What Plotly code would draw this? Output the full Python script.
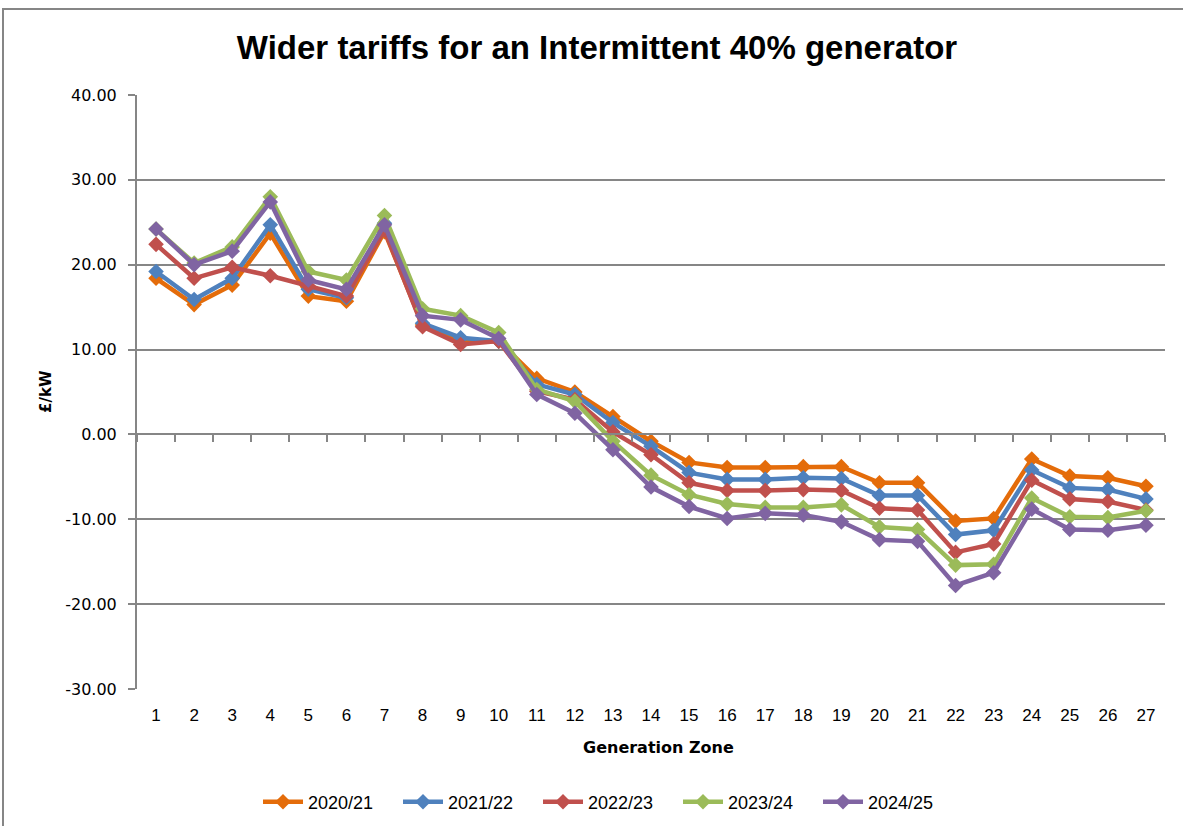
import plotly.graph_objects as go

zones = list(range(1, 28))
series_names = ["2020/21", "2021/22", "2022/23", "2023/24", "2024/25"]
y2020 = [18.4, 15.3, 17.6, 23.7, 16.3, 15.7, 23.9, 12.9, 10.9, 11.0, 6.6, 5.0, 2.1, -0.8, -3.3, -3.9, -3.9, -3.8, -3.8, -5.7, -5.7, -10.2, -9.9, -2.9, -4.9, -5.1, -6.1]
y2021 = [19.2, 15.9, 18.4, 24.7, 17.1, 16.1, 24.9, 13.1, 11.4, 11.0, 5.9, 4.7, 1.4, -1.4, -4.5, -5.3, -5.3, -5.1, -5.2, -7.2, -7.2, -11.8, -11.3, -4.2, -6.3, -6.5, -7.6]
y2022 = [22.4, 18.4, 19.7, 18.7, 17.5, 16.3, 24.1, 12.7, 10.6, 11.0, 5.1, 4.1, 0.3, -2.4, -5.7, -6.6, -6.6, -6.5, -6.6, -8.7, -8.9, -13.9, -12.9, -5.4, -7.6, -7.9, -8.9]
y2023 = [24.2, 20.2, 22.1, 28.0, 19.2, 18.2, 25.8, 14.8, 14.0, 12.0, 5.3, 3.9, -0.8, -4.8, -7.1, -8.2, -8.6, -8.6, -8.3, -10.9, -11.2, -15.4, -15.3, -7.5, -9.7, -9.8, -9.0]
y2024 = [24.2, 20.0, 21.6, 27.4, 18.2, 17.1, 24.7, 14.0, 13.5, 11.3, 4.7, 2.5, -1.8, -6.2, -8.5, -9.9, -9.3, -9.5, -10.3, -12.4, -12.6, -17.8, -16.3, -8.8, -11.2, -11.3, -10.7]
colors = ["#E46C0A", "#4F81BD", "#C0504D", "#9BBB59", "#8064A2"]
y_ticks = [40, 30, 20, 10, 0, -10, -20, -30]
boundaries = [z - 0.5 for z in zones] + [zones[-1] + 0.5]

TITLE_FONT = "Liberation Sans, Arial, sans-serif"
TICK_FONT = "DejaVu Sans, Verdana, sans-serif"
LABEL_FONT = "Liberation Sans, Arial, sans-serif"
GRID = "#868686"

fig = go.Figure()
for name, ys, c in zip(series_names, [y2020, y2021, y2022, y2023, y2024], colors):
    fig.add_trace(go.Scatter(
        x=zones, y=ys, name=name, mode="lines+markers",
        line=dict(color=c, width=4.5),
        marker=dict(symbol="diamond", size=12, color=c),
    ))

# invisible trace to carry the zero-crossing category axis
fig.add_trace(go.Scatter(x=[boundaries[0], boundaries[-1]], y=[0, 0], xaxis="x2",
                         mode="lines", line=dict(width=0), showlegend=False,
                         hoverinfo="skip"))

fig.update_layout(
    width=1183, height=826,
    paper_bgcolor="white", plot_bgcolor="white",
    margin=dict(l=137, r=18, t=95, b=137, autoexpand=False),
    title=dict(text="<b>Wider tariffs for an Intermittent 40% generator</b>",
               x=597 / 1183, xanchor="center", y=1 - 47 / 826, yanchor="middle",
               font=dict(family=TITLE_FONT, size=33, color="black")),
    xaxis=dict(range=[0.5, 27.5], tickvals=zones, ticktext=[str(z) for z in zones],
               showgrid=False, zeroline=False, showline=False, ticks="",
               tickfont=dict(family=LABEL_FONT, size=17, color="black"),
               ticklabelstandoff=14),
    xaxis2=dict(range=[0.5, 27.5], overlaying="x", anchor="free",
                position=30 / 70, tickvals=boundaries, showticklabels=False,
                ticks="outside", ticklen=7, tickwidth=2, tickcolor=GRID,
                showline=True, linecolor=GRID, linewidth=2, showgrid=False,
                zeroline=False),
    yaxis=dict(range=[-30, 40], tickvals=y_ticks, ticktext=[f"{v:.2f}" for v in y_ticks],
               showgrid=True, gridcolor=GRID, gridwidth=2, zeroline=False,
               showline=True, linecolor=GRID, linewidth=2,
               ticks="outside", ticklen=7, tickwidth=2, tickcolor=GRID,
               tickfont=dict(family=TICK_FONT, size=16, color="black"),
               ticklabelstandoff=8),
    legend=dict(orientation="h", x=(608 - 137) / 1028, xanchor="center",
                y=(689 - 802) / 594, yanchor="middle",
                font=dict(family=LABEL_FONT, size=18, color="black"),
                itemwidth=40, entrywidth=85, entrywidthmode="pixels",
                tracegroupgap=0),
    showlegend=True,
    annotations=[
        dict(text="<b>Generation Zone</b>", x=(658 - 137) / 1028, y=(689 - 747) / 594,
             xref="paper", yref="paper", showarrow=False, xanchor="center",
             yanchor="middle",
             font=dict(family=TICK_FONT, size=16, color="black")),
        dict(text="<b>£/kW</b>", x=(46 - 137) / 1028, y=(689 - 392) / 594,
             xref="paper", yref="paper", showarrow=False, textangle=-90,
             xanchor="center", yanchor="middle",
             font=dict(family=TICK_FONT, size=15, color="black")),
    ],
    shapes=[dict(type="rect", xref="paper", yref="paper",
                 x0=(3 - 137) / 1028, x1=(1195 - 137) / 1028,
                 y0=(689 - 840) / 594, y1=(689 - 9) / 594,
                 line=dict(color=GRID, width=2), fillcolor="rgba(0,0,0,0)",
                 layer="above")],
)

fig.write_html("out.html", config={"displayModeBar": False},
               post_script="document.body.style.margin='0';")
